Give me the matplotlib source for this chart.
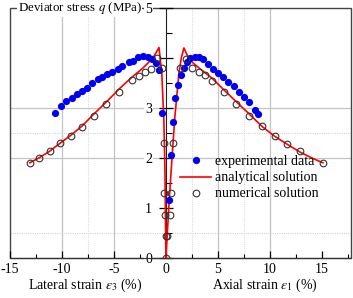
import matplotlib
matplotlib.use("Agg")
import matplotlib.pyplot as plt
from matplotlib.patches import Rectangle

plt.rcParams['font.family'] = ['Liberation Serif', 'DejaVu Serif']
plt.rcParams['mathtext.fontset'] = 'stix'
plt.rcParams['font.size'] = 10

# experimental data (lateral / axial branches)
exp_lat_x = [-10.65, -10.1, -9.6, -9.07, -8.56, -8.1, -7.56, -7.08, -6.57, -6.12, -5.64, -5.16,
             -4.6, -4.2, -3.56, -3.17, -2.66, -2.18, -1.76, -1.3, -0.95, -0.7, -0.35]
exp_lat_q = [2.90, 3.04, 3.13, 3.19, 3.27, 3.33, 3.39, 3.49, 3.57, 3.62, 3.67, 3.72,
             3.77, 3.83, 3.91, 3.94, 4.01, 4.03, 4.01, 3.98, 3.90, 3.75, 2.90]
exp_ax_x = [0.29, 0.45, 0.7, 0.9, 1.2, 1.45, 1.7, 2.0, 2.35, 2.8, 3.2, 3.6, 4.05, 4.55,
            5.0, 5.5, 6.0, 6.5, 7.0, 7.5, 8.0, 8.55, 8.9]
exp_ax_q = [1.15, 2.05, 2.72, 3.19, 3.45, 3.66, 3.80, 3.92, 3.99, 4.01, 4.01, 3.97, 3.87, 3.77,
            3.70, 3.62, 3.52, 3.43, 3.32, 3.22, 3.12, 2.95, 2.87]

# numerical solution
num_lat_x = [0.0, 0.0, -0.1, -0.15, -0.2, -0.41, -0.83, -1.47, -2.03, -2.6, -3.22, -4.5,
             -5.72, -6.92, -8.05, -9.16, -10.2, -11.2, -12.2, -13.08]
num_lat_q = [0.0, 0.43, 0.85, 1.3, 2.3, 3.79, 3.99, 3.78, 3.71, 3.64, 3.55, 3.32,
             3.08, 2.84, 2.62, 2.44, 2.29, 2.13, 1.99, 1.90]
num_ax_x = [0.12, 0.38, 0.5, 0.68, 1.35, 1.97, 2.53, 3.17, 3.75, 4.39, 5.58, 6.78,
            8.0, 9.23, 10.47, 11.67, 12.85, 15.1]
num_ax_q = [0.43, 0.85, 1.3, 2.3, 3.79, 3.98, 3.79, 3.72, 3.65, 3.54, 3.32, 3.08,
            2.84, 2.63, 2.44, 2.28, 2.13, 1.90]

# analytical solution
ana_lat_x = [-13.1, -12.2, -11.2, -10.2, -9.16, -8.05, -6.92, -5.72, -4.5, -3.24, -2.2,
             -1.63, -1.1, -0.67, -0.4, -0.2, -0.1, 0.0]
ana_lat_q = [1.90, 2.00, 2.13, 2.29, 2.45, 2.64, 2.88, 3.12, 3.38, 3.62, 3.80,
             3.92, 4.05, 4.21, 3.70, 2.75, 1.80, 0.0]
ana_ax_x = [0.0, 0.3, 0.6, 0.85, 1.05, 1.25, 1.5, 1.73, 2.05, 2.5, 3.17, 4.4, 5.58,
            6.78, 8.0, 9.23, 10.47, 11.67, 12.85, 14.0, 15.1]
ana_ax_q = [0.0, 1.1, 2.05, 2.8, 3.25, 3.7, 4.02, 4.2, 4.05, 3.92, 3.80, 3.60, 3.36,
            3.12, 2.88, 2.63, 2.43, 2.27, 2.12, 2.00, 1.90]

x_ticks = [-15, -10, -5, 0, 5, 10, 15]
y_ticks = [0, 1, 2, 3, 4, 5]
y_tick_labels = ['0', '1', '2', '3', '', '5']

fig = plt.figure(figsize=(3.53, 2.98), dpi=100)
ax = fig.add_axes([10 / 353, 1 - 257.7 / 298, 341 / 353, 249.7 / 298])
ax.set_xlim(-15, 17.8)
ax.set_ylim(0, 5)

# grid lines
for gx in [-10, -5, 5, 10]:
    ax.axvline(gx, color='#c4c4c4', lw=0.9, zorder=0.3)
for gx in [-7.5, 2.5, 7.5]:
    ax.axvline(gx, color='#dcdcdc', lw=0.8, ls=(0, (1, 1)), zorder=0.3)
for gy in [2, 3]:
    ax.axhline(gy, color='#c4c4c4', lw=0.9, zorder=0.3)
for gy in [0.5, 2.5]:
    ax.axhline(gy, color='#d4d4d4', lw=0.8, ls=(0, (1, 1)), zorder=0.3)

# frame
ax.add_patch(Rectangle((0, 0), 1, 1, transform=ax.transAxes, fill=False,
                       edgecolor='#444444', lw=1.0, zorder=0.9, clip_on=False))
for s in ['top', 'right']:
    ax.spines[s].set_visible(False)
ax.spines['left'].set_position(('data', 0))
ax.spines['left'].set_color('#222222')
ax.spines['bottom'].set_color('#333333')

ax.set_xticks(x_ticks)
ax.set_xticklabels([str(v) for v in x_ticks])
ax.set_xticks([-12.5, -7.5, -2.5, 2.5, 7.5, 12.5, 17.5], minor=True)
ax.set_yticks(y_ticks)
ax.set_yticklabels(y_tick_labels)
ax.set_yticks([0.5, 1.5, 2.5, 3.5, 4.5], minor=True)
ax.tick_params(axis='x', which='major', direction='in', length=5, width=0.9, pad=4)
ax.tick_params(axis='x', which='minor', direction='in', length=3, width=0.8)
ax.tick_params(axis='y', which='major', direction='inout', length=10, width=0.9, pad=5)
ax.tick_params(axis='y', which='minor', direction='in', length=4, width=0.8)
for lab in ax.get_yticklabels():
    lab.set_bbox(dict(facecolor='white', edgecolor='none', pad=0.6))

# data
ax.plot(ana_lat_x, ana_lat_q, color='#ff0000', lw=1.2, zorder=3)
ax.plot(ana_ax_x, ana_ax_q, color='#ff0000', lw=1.2, zorder=3, label='analytical solution')
ax.plot(exp_lat_x, exp_lat_q, 'o', color='#0000f0', ms=5.2, mec='none', zorder=4,
        label='experimental data')
ax.plot(exp_ax_x, exp_ax_q, 'o', color='#0000f0', ms=5.2, mec='none', zorder=4)
ax.plot(num_lat_x, num_lat_q, 'o', mfc='none', mec='#333333', ms=4.8, mew=0.8, zorder=5,
        label='numerical solution')
ax.plot(num_ax_x, num_ax_q, 'o', mfc='none', mec='#333333', ms=4.8, mew=0.8, zorder=5)

handles, labels = ax.get_legend_handles_labels()
order = [1, 0, 2]
ax.legend([handles[i] for i in order], [labels[i] for i in order],
          loc='upper left', bbox_to_anchor=(0.5, 0.41), frameon=False,
          handlelength=2.2, handletextpad=0.25, labelspacing=0.22, borderpad=0,
          borderaxespad=0, fontsize=10)

ax.text(0.022, 1.0, r'Deviator stress $q$ (MPa)', transform=ax.transAxes,
        ha='left', va='center', fontsize=9.3, zorder=6,
        bbox=dict(facecolor='white', edgecolor='none', pad=0.4))
fig.text(85 / 353, 1 - 285 / 298, r'Lateral strain $\varepsilon_3$ (%)', ha='center',
         va='center', fontsize=10)
fig.text(265 / 353, 1 - 285 / 298, r'Axial strain $\varepsilon_1$ (%)', ha='center',
         va='center', fontsize=10)

fig.savefig('out.png', dpi=100)
